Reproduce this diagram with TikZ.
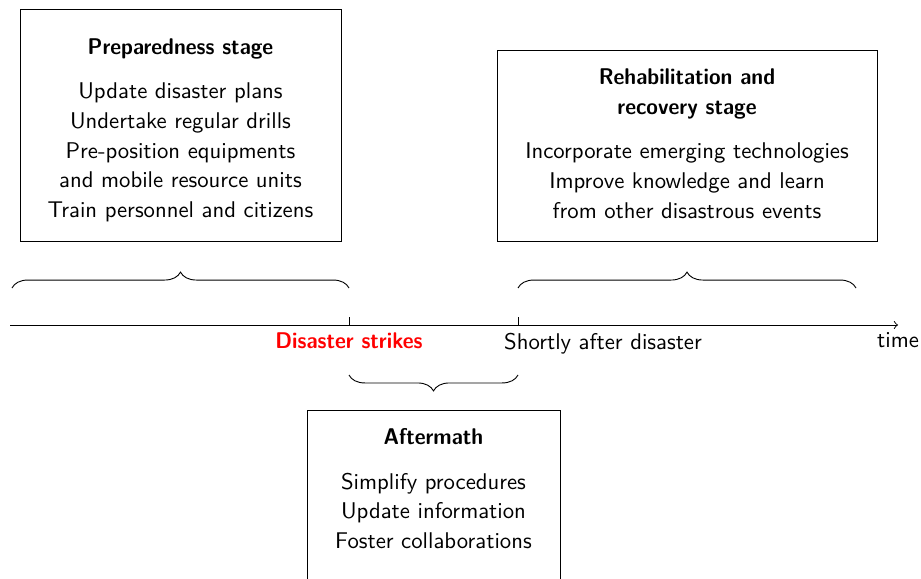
\documentclass[tikz,border=0pt]{standalone}
\usepackage{fontspec}
\setsansfont{lmsans10-regular.otf}[BoldFont=lmsans10-bold.otf,BoldFeatures={FakeStretch=0.93}]
\usepackage{tikz}
\usetikzlibrary{decorations.pathreplacing,calc}

\tikzset{
  stagebox/.style={draw,align=center,inner sep=8pt,
    font=\sffamily\fontsize{10}{13.1}\selectfont},
  bracedeco/.style={decorate,decoration={brace,amplitude=7pt}},
}

\begin{document}
\begin{tikzpicture}[x=0.44pt,y=-0.44pt,font=\sffamily]
  \useasboundingbox (0,0) rectangle (921,579);
  % time axis and ticks
  \coordinate (t0) at (10,325);
  \coordinate (tend) at (898,325);
  \coordinate (strike) at (349,325);
  \coordinate (after) at (518,325);
  \draw[->] (t0) -- (tend) node[below] (timelbl) {time};
  \draw (strike) -- ++(0,-8);
  \draw (after) -- ++(0,-8);
  \node[below,text=red,font=\sffamily\bfseries] (strikelbl) at (strike) {Disaster strikes};
  \node[below] (afterlbl) at ($(after)+(85,0)$) {Shortly after disaster};
  % braces
  \draw[bracedeco] ($(t0)+(2,-37)$) -- ($(strike)+(0,-37)$);
  \draw[bracedeco] ($(after)+(0,-37)$) -- ($(after)+(338,-37)$);
  \draw[bracedeco] ($(after)+(0,50)$) -- ($(strike)+(0,50)$);
  % stages
  \node[stagebox,minimum width=141.2pt,minimum height=102.1pt] (prep) at (180.5,125)
    {\rule{0pt}{11.5pt}\textbf{Preparedness stage}\\[6.5pt]Update disaster plans\\Undertake regular drills\\
     Pre-position equipments\\and mobile resource units\\Train personnel and citizens};
  \node[stagebox,minimum width=167.2pt,minimum height=83.6pt] (rehab) at (687,146)
    {\textbf{Rehabilitation and}\\\textbf{recovery stage}\\[6.5pt]Incorporate emerging technologies\\
     Improve knowledge and learn\\from other disastrous events\rule[-2.2pt]{0pt}{0pt}};
  \node[stagebox,anchor=north,minimum width=111.3pt] (aftermath) at (433.5,410)
    {\textbf{Aftermath}\\[6.5pt]Simplify procedures\\Update information\\Foster collaborations\\[10pt]};
\end{tikzpicture}
\end{document}
